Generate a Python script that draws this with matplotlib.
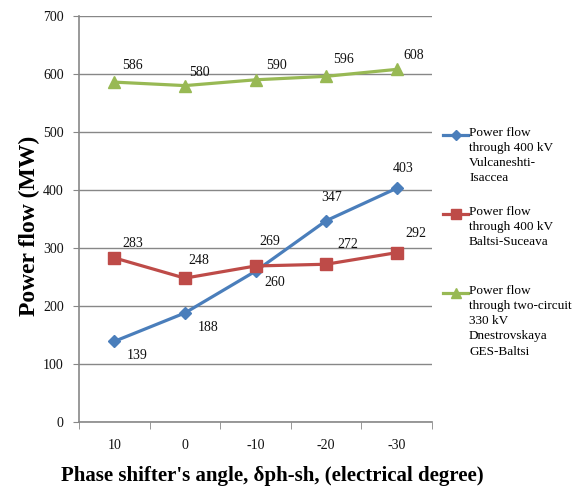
"""
    Power flows vs phase shifter angle
"""

import matplotlib.pyplot as plt
from matplotlib.lines import Line2D
import numpy as np

plt.rcParams['font.family'] = ['Liberation Serif', 'DejaVu Serif']

angles = ['10', '0', '-10', '-20', '-30']
vulcaneshti = [139, 188, 260, 347, 403]
baltsi = [283, 248, 269, 272, 292]
dnestr = [586, 580, 590, 596, 608]

names = ['Power flow\nthrough 400 kV\nVulcaneshti-\nIsaccea',
         'Power flow\nthrough 400 kV\nBaltsi-Suceava',
         'Power flow\nthrough two-circuit\n330 kV\nDnestrovskaya\nGES-Baltsi']

blue = '#4a7ebb'
red = '#be4b48'
green = '#98b954'
grid_c = '#878787'

fig = plt.figure(figsize=(5.75, 4.9), dpi=100)
ax = fig.add_axes([79/575, 68/490, 353/575, 406/490])

x = np.arange(len(angles))
ax.plot(x, vulcaneshti, color=blue, lw=2.3, marker='D', ms=6, zorder=3)
ax.plot(x, baltsi, color=red, lw=2.3, marker='s', ms=8, zorder=3)
ax.plot(x, dnestr, color=green, lw=2.3, marker='^', ms=8, zorder=3)

#label offsets in pixels (dx, dy)
off_b = [(23, -14), (23, -15), (19, -11), (6, 23), (6, 20)]
off_r = [(18, 14), (14, 18), (14, 24), (22, 20), (19, 19)]
off_g = [(18, 17), (15, 13), (21, 14), (17, 17), (17, 14)]
for vals, offs in [(vulcaneshti, off_b), (baltsi, off_r), (dnestr, off_g)]:
    for i, v in enumerate(vals):
        ax.annotate(str(v), (x[i], v), xytext=offs[i], textcoords='offset pixels',
                    ha='center', va='center', fontsize=10, color='#111111')

ax.set_xlim(-0.5, 4.5)
ax.set_ylim(0, 700)
ax.set_yticks(range(0, 701, 100))
ax.set_xticks(x)
ax.set_xticklabels(angles)
ax.set_xticks(np.arange(-0.5, 4.6, 1), minor=True)
ax.tick_params(axis='x', which='major', length=0, pad=12, labelsize=10, labelcolor='#111111')
ax.tick_params(axis='x', which='minor', length=5, color=grid_c, direction='out')
ax.tick_params(axis='y', length=4, color=grid_c, labelsize=10, pad=7, labelcolor='#111111')

ax.grid(axis='y', color=grid_c, lw=1)
ax.set_axisbelow(True)
for s in ['top', 'right']:
    ax.spines[s].set_visible(False)
for s in ['left', 'bottom']:
    ax.spines[s].set_color(grid_c)
    ax.spines[s].set_linewidth(1.2)

fig.text(29/575, 1 - 226/490, 'Power flow (MW)', rotation=90, ha='center', va='center',
         fontsize=17, fontweight='bold')
fig.text(272/575, 1 - 476/490, "Phase shifter's angle, δph-sh, (electrical degree)",
         ha='center', va='center', fontsize=15, fontweight='bold')

#legend drawn by hand so the handle sits on the first text line
leg_y = [135, 214, 293]
for name, c, m, ms, y in zip(names, [blue, red, green], ['D', 's', '^'], [5, 7, 7], leg_y):
    fy = 1 - y/490
    fig.add_artist(Line2D([443/575, 468/575], [fy, fy], color=c, lw=2.3))
    fig.add_artist(Line2D([455.5/575], [fy], color=c, marker=m, ms=ms, lw=0))
    fig.text(469/575, fy + 8/490, name, ha='left', va='top', fontsize=9.5,
             linespacing=1.35)

fig.savefig('out.png', dpi=100)
